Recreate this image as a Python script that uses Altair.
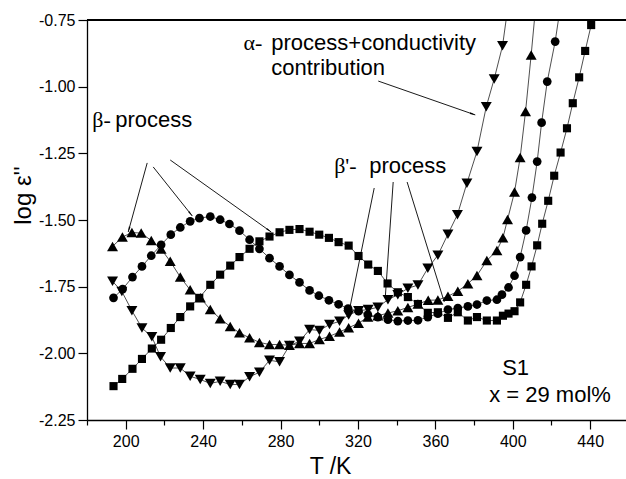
import math
import altair as alt
import pandas as pd

# ---------------- data ----------------
sq_T = [193.7, 198.2, 203.5, 208.4, 213.5, 218.3, 223.3, 228.2, 233.3, 238.0, 243.7, 248.8, 254.0, 258.8,
        264.0, 269.1, 274.3, 279.5, 284.6, 289.8, 295.0, 300.0, 305.0, 310.0, 315.2, 320.3, 325.3, 330.3,
        335.3, 340.6, 345.8, 351.0, 356.1, 361.3, 366.5, 371.6, 376.8, 381.5, 386.6, 391.8, 394.9, 397.8,
        400.9, 403.8, 406.9, 409.7, 412.6, 415.2, 418.3, 421.4, 424.7, 428.0, 431.0, 434.3, 437.4, 440.5, 443.6]
sq_v = [-2.123, -2.096, -2.058, -2.021, -1.982, -1.949, -1.905, -1.864, -1.824, -1.792, -1.743, -1.705, -1.671, -1.639,
        -1.608, -1.580, -1.562, -1.546, -1.537, -1.534, -1.544, -1.555, -1.567, -1.583, -1.596, -1.635, -1.667, -1.691,
        -1.738, -1.771, -1.789, -1.815, -1.848, -1.846, -1.867, -1.846, -1.877, -1.864, -1.877, -1.877, -1.859, -1.851,
        -1.842, -1.809, -1.743, -1.674, -1.595, -1.514, -1.428, -1.334, -1.247, -1.156, -1.062, -0.965, -0.866, -0.769, -0.67]

ci_T = [193.7, 198.4, 203.5, 208.4, 213.2, 218.3, 223.3, 228.2, 233.3, 238.1, 243.7, 248.8, 253.6, 258.8,
        264.0, 269.1, 274.3, 279.5, 284.6, 289.8, 295.0, 299.8, 305.0, 310.0, 314.9, 320.3, 325.1, 330.3,
        335.5, 340.6, 345.8, 351.0, 356.1, 361.3, 366.5, 371.6, 376.8, 381.5, 386.6, 391.8, 394.4, 397.8,
        400.9, 403.8, 406.9, 409.9, 412.6, 414.9, 417.8, 421.9, 424.8]
ci_v = [-1.792, -1.759, -1.714, -1.674, -1.634, -1.593, -1.555, -1.528, -1.505, -1.493, -1.487, -1.499, -1.515, -1.540,
        -1.574, -1.608, -1.643, -1.674, -1.706, -1.734, -1.764, -1.784, -1.801, -1.816, -1.832, -1.842, -1.855, -1.864,
        -1.874, -1.879, -1.877, -1.876, -1.864, -1.851, -1.836, -1.830, -1.824, -1.817, -1.802, -1.799, -1.780, -1.753,
        -1.709, -1.639, -1.539, -1.416, -1.281, -1.135, -0.981, -0.831, -0.69]

tu_T = [193.2, 198.3, 203.2, 208.0, 213.2, 218.3, 223.0, 228.2, 233.3, 238.6, 243.7, 248.8, 254.0, 258.8,
        264.0, 269.1, 274.3, 279.5, 284.6, 289.8, 295.0, 300.1, 305.3, 310.5, 315.2, 320.3, 325.1, 330.3,
        335.5, 340.6, 345.8, 351.0, 356.3, 361.3, 366.5, 371.6, 376.8, 381.5, 386.6, 391.8, 394.9, 397.3,
        400.9, 403.8, 406.6, 409.5, 412.6]
tu_v = [-1.599, -1.564, -1.547, -1.549, -1.577, -1.609, -1.655, -1.714, -1.762, -1.792, -1.836, -1.870, -1.899, -1.923,
        -1.942, -1.959, -1.967, -1.967, -1.970, -1.963, -1.963, -1.948, -1.936, -1.920, -1.904, -1.887, -1.864, -1.859,
        -1.849, -1.840, -1.828, -1.815, -1.801, -1.800, -1.786, -1.767, -1.739, -1.708, -1.652, -1.614, -1.567, -1.498,
        -1.395, -1.266, -1.093, -0.881, -0.64]

td_T = [193.2, 198.0, 203.2, 208.4, 213.5, 218.0, 223.0, 228.2, 233.3, 238.5, 243.7, 248.8, 254.0, 258.8,
        264.0, 269.1, 274.3, 279.5, 284.6, 289.8, 295.0, 300.1, 305.3, 310.5, 315.2, 320.3, 325.3, 330.3,
        335.5, 340.6, 345.8, 351.0, 356.1, 361.3, 366.5, 371.4, 376.3, 381.5, 386.3, 390.4, 394.7, 397.5]
td_v = [-1.730, -1.768, -1.840, -1.905, -1.938, -2.013, -2.055, -2.055, -2.086, -2.098, -2.113, -2.105, -2.117, -2.117,
        -2.088, -2.071, -2.026, -2.032, -1.971, -1.955, -1.911, -1.914, -1.892, -1.880, -1.856, -1.840, -1.836, -1.827,
        -1.799, -1.780, -1.756, -1.744, -1.681, -1.632, -1.553, -1.480, -1.362, -1.243, -1.075, -0.971, -0.847, -0.70]

x_ticks = [180, 200, 220, 240, 260, 280, 300, 320, 340, 360, 380, 400, 420, 440]
y_ticks = [-2.25, -2.125, -2.0, -1.875, -1.75, -1.625, -1.5, -1.375, -1.25, -1.125, -1.0, -0.875, -0.75]

# annotation segments (data coordinates): start T, start v, end T, end v
seg_T1 = [211.1, 214.2, 223.0, 328.4, 338.2, 345.4, 330.5]
seg_v1 = [-1.286, -1.301, -1.275, -1.380, -1.3575, -1.3575, -0.979]
seg_T2 = [201.3, 234.4, 275.2, 316.0, 334.1, 364.6, 380.6]
seg_v2 = [-1.545, -1.485, -1.545, -1.8225, -1.7925, -1.8075, -1.106]
seg_arrow = [True, True, True, False, False, False, True]

txt_T = [260.9, 275.2, 275.2, 182.7, 194.6, 307.7, 325.8, 394.5, 387.8]
txt_v = [-0.8625, -0.8625, -0.956, -1.15, -1.15, -1.325, -1.325, -2.081, -2.183]
txt_s = ["α-", "process+conductivity", "contribution", "β-", "process", "β'-", "process", "S1", "x = 29 mol%"]
txt_greek = [True, False, False, True, False, True, False, False, False]

# ---------------- geometry ----------------
W, H = 539, 400
XD = [180, 458.5]
YD = [-2.25, -0.75]
SANS = "Liberation Sans"
SERIF = "Liberation Serif"

def to_px(T, v):
    return ((T - XD[0]) / (XD[1] - XD[0]) * W, (YD[1] - v) / (YD[1] - YD[0]) * H)

def to_data(x, y):
    return (XD[0] + x / W * (XD[1] - XD[0]), YD[1] - y / H * (YD[1] - YD[0]))

rows = []
for name, Ts, vs in [("sq", sq_T, sq_v), ("ci", ci_T, ci_v), ("tu", tu_T, tu_v), ("td", td_T, td_v)]:
    for t, v in zip(Ts, vs):
        rows.append({"series": name, "T": t, "v": v})
df = pd.DataFrame(rows)

segs = pd.DataFrame({"T1": seg_T1, "v1": seg_v1, "T2": seg_T2, "v2": seg_v2})

heads = []
for t1, v1, t2, v2, a in zip(seg_T1, seg_v1, seg_T2, seg_v2, seg_arrow):
    if not a:
        continue
    x1, y1 = to_px(t1, v1)
    x2, y2 = to_px(t2, v2)
    dx, dy = x2 - x1, y2 - y1
    L = math.hypot(dx, dy)
    ang = math.degrees(math.atan2(dx, -dy)) % 360
    hx, hy = x2 - dx / L * 3.5, y2 - dy / L * 3.5
    ht, hv = to_data(hx, hy)
    heads.append({"T": ht, "v": hv, "angle": ang})
heads = pd.DataFrame(heads)

texts = pd.DataFrame({"T": txt_T, "v": txt_v, "text": txt_s, "greek": txt_greek})

xs = alt.Scale(domain=XD, nice=False, zero=False)
ys = alt.Scale(domain=YD, nice=False, zero=False)

x_axis = alt.Axis(
    values=x_ticks, title="T /K",
    labelExpr="datum.value % 40 === 0 ? datum.label : ''",
    tickSize={"condition": {"test": "datum.value % 40 === 0", "value": 9}, "value": 5},
    labelFontSize=16, labelPadding=4, titleFontSize=23, titleFontWeight="normal",
    titleX=243, titleY=53, titleAlign="center", titleBaseline="alphabetic",
)
y_axis = alt.Axis(
    values=y_ticks, title="log ε''",
    labelExpr="abs(round(datum.value*8)) % 2 === 0 ? ((datum.value < 0 ? '-' : '') + format(abs(datum.value), '.2f')) : ''",
    tickSize={"condition": {"test": "abs(round(datum.value*8)) % 2 === 0", "value": 9}, "value": 5},
    labelFontSize=16, labelPadding=3, titleFontSize=24, titleFontWeight="normal",
    titleX=-64, titleY=175, titleAngle=270, titleAlign="center", titleBaseline="middle",
)

base = alt.Chart(df)
lines = base.mark_line(color="#222222", strokeWidth=0.8, clip=True).encode(
    x=alt.X("T:Q", scale=xs, axis=x_axis),
    y=alt.Y("v:Q", scale=ys, axis=y_axis),
    detail="series:N",
    order="T:Q",
)

marker_style = {"sq": ("square", 66), "ci": ("circle", 76), "tu": ("triangle-up", 120), "td": ("triangle-down", 120)}
point_layers = []
for name, (shp, sz) in marker_style.items():
    point_layers.append(
        base.transform_filter(alt.datum.series == name).mark_point(
            shape=shp, size=sz, filled=True, color="black", opacity=1, clip=True
        ).encode(x=alt.X("T:Q", scale=xs), y=alt.Y("v:Q", scale=ys))
    )

seg_layer = alt.Chart(segs).mark_rule(color="black", strokeWidth=0.9).encode(
    x=alt.X("T1:Q", scale=xs), y=alt.Y("v1:Q", scale=ys),
    x2="T2:Q", y2="v2:Q",
)
head_layer = alt.Chart(heads).mark_point(shape="wedge", filled=True, color="black", opacity=1, size=45).encode(
    x=alt.X("T:Q", scale=xs), y=alt.Y("v:Q", scale=ys), angle=alt.Angle("angle:Q", scale=None),
)

txt_sans = alt.Chart(texts).transform_filter("!datum.greek").mark_text(
    font=SANS, fontSize=22, align="left", baseline="alphabetic", color="black"
).encode(x=alt.X("T:Q", scale=xs), y=alt.Y("v:Q", scale=ys), text="text:N")
txt_greek_layer = alt.Chart(texts).transform_filter("datum.greek").mark_text(
    font=SERIF, fontSize=22, align="left", baseline="alphabetic", color="black"
).encode(x=alt.X("T:Q", scale=xs), y=alt.Y("v:Q", scale=ys), text="text:N")

top_line = alt.Chart(df).mark_rule(color="black", strokeWidth=1.3).encode(
    x=alt.value(0), x2=alt.value(W), y=alt.value(0)
)

chart = alt.layer(lines, *point_layers, seg_layer, head_layer, txt_sans, txt_greek_layer, top_line).properties(
    width=W, height=H,
    autosize="none",
    padding={"left": 87, "top": 20, "right": 0, "bottom": 59},
    background="white",
).configure_view(stroke=None).configure_axis(
    domainColor="black", domainWidth=1.3, tickColor="black", tickWidth=1.2,
    labelColor="black", titleColor="black", labelFont=SANS, titleFont=SANS, grid=False,
)

chart.save("out.html", embed_options={"renderer": "svg", "actions": False})
